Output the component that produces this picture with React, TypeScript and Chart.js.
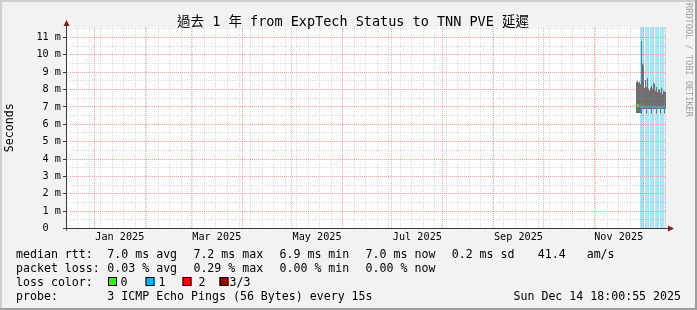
import React, { useEffect, useRef } from "react";
import { Chart, registerables } from "chart.js";

Chart.register(...registerables);

// ---------- text ----------
const TITLE = "過去 1 年 from ExpTech Status to TNN PVE 延遲";
const Y_TITLE = "Seconds";
const WATERMARK = "RRDTOOL / TOBI OETIKER";

// ---------- time axis ----------
const END_TIME = "2025-12-14T18:00:55Z";
const SPAN_DAYS = 365;
const LABEL_MONTHS_2025 = [0, 2, 4, 6, 8, 10];
const MONTH_LABELS = ["Jan 2025", "Mar 2025", "May 2025", "Jul 2025", "Sep 2025", "Nov 2025"];

// ---------- value axis (ms) ----------
const Y_MAX_MS = 11.6;
const Y_MAJOR_TICKS = [0, 1, 2, 3, 4, 5, 6, 7, 8, 9, 10, 11];
const Y_MINOR_TICKS = [0.5, 1.5, 2.5, 3.5, 4.5, 5.5, 6.5, 7.5, 8.5, 9.5, 10.5, 11.5];
const Y_TICK_LABELS = ["0  ", "1 m", "2 m", "3 m", "4 m", "5 m", "6 m", "7 m", "8 m", "9 m", "10 m", "11 m"];

// ---------- samples (one RRD step each) ----------
const FIRST_SAMPLE = "2025-11-26T19:18:41Z";
const STEP_SECONDS = 52560;
const SMOKE_HIGH = [8.45, 8.5, 8.4, 8.45, 8.3, 10.8, 9.5, 9.4, 8.1, 8.55, 8.15, 8.65, 8.05, 7.95, 8.1, 8.2, 8.05, 8.4, 8.35, 7.95, 8.15, 7.85, 8.0, 8.0, 7.85, 8.1, 7.75, 7.95, 7.9, 7.85];
const SMOKE_LOW = [6.65, 6.65, 6.65, 6.65, 6.65, 6.62, 6.88, 6.88, 6.88, 6.88, 6.62, 6.88, 6.88, 6.88, 6.88, 6.62, 6.88, 6.88, 6.88, 6.88, 6.62, 6.88, 6.88, 6.88, 6.62, 6.88, 6.88, 6.88, 6.62, 6.88];
const MEDIAN = [7.05, 7.1, 7.05, 7.1, 7.0, 6.95, 7.0, 7.05, 7.0, 7.0, 6.95, 7.0, 7.0, 7.05, 7.0, 7.0, 7.0, 7.0, 7.05, 7.0, 7.0, 6.95, 7.0, 7.0, 6.95, 7.0, 7.0, 7.0, 7.05, 7.0];
const LOST_PINGS = [0, 0, 0, 0, 1, 1, 1, 1, 0, 1, 1, 1, 1, 0, 1, 1, 1, 1, 0, 1, 1, 1, 1, 0, 1, 1, 1, 1, 0, 1];

// ---------- legend ----------
const RTT_HEAD = "median rtt:";
const RTT_ITEMS = ["7.0 ms avg", "7.2 ms max", "6.9 ms min", "7.0 ms now", "0.2 ms sd", "41.4   am/s"];
const LOSS_HEAD = "packet loss:";
const LOSS_ITEMS = ["0.03 % avg", "0.29 % max", "0.00 % min", "0.00 % now"];
const LOSS_COLOR_HEAD = "loss color:";
const LOSS_COLOR_LABELS = ["0", "1", "2", "3/3"];
const LOSS_COLORS = ["#26ff00", "#00b8ff", "#ff0000", "#a00000"];
const PROBE_HEAD = "probe:";
const PROBE_TEXT = "3 ICMP Echo Pings (56 Bytes) every 15s";
const TIMESTAMP = "Sun Dec 14 18:00:55 2025";

// ---------- styles ----------
const MONO = "'DejaVu Sans Mono', 'Noto Sans CJK TC', monospace";
const BG = "#f2f2f2";
const MINOR_GRID = "rgba(150,150,150,0.3)";
const MAJOR_GRID = "rgba(225,80,80,0.45)";
const SMOKE_COLOR = "#707070";
const LOSS_BAR_COLOR = "#a8e6fb";
const AXIS_COLOR = "#3a3a3a";
const ARROW_COLOR = "#801f1f";

const DAY = 86400000;
const END = new Date(END_TIME).getTime();
const START = END - SPAN_DAYS * DAY;
const T0 = new Date(FIRST_SAMPLE).getTime();
const SAMPLE_TIMES = SMOKE_HIGH.map((_, i) => T0 + i * STEP_SECONDS * 1000);

function monthStarts(): number[] {
  const d = new Date(START);
  const out: number[] = [];
  let y = d.getUTCFullYear();
  let m = d.getUTCMonth() + 1;
  for (;;) {
    const t = Date.UTC(y, m, 1);
    if (t > END) break;
    out.push(t);
    m++;
  }
  return out;
}
function sundays(): number[] {
  const d = new Date(START);
  let t = Date.UTC(d.getUTCFullYear(), d.getUTCMonth(), d.getUTCDate());
  const out: number[] = [];
  while (t <= END) {
    if (t >= START && new Date(t).getUTCDay() === 0) out.push(t);
    t += DAY;
  }
  return out;
}
const MONTH_STARTS = monthStarts();
const GRID_TICKS = Array.from(new Set([...MONTH_STARTS, ...sundays()])).sort((a, b) => a - b);
const LABEL_TICKS = LABEL_MONTHS_2025.map((m) => (Date.UTC(2025, m, 1) + Date.UTC(2025, m + 1, 1)) / 2);

const rrdPlugin = {
  id: "rrdDecor",
  beforeDraw(chart: any) {
    const { ctx, chartArea: a } = chart;
    ctx.save();
    ctx.fillStyle = BG;
    ctx.fillRect(0, 0, chart.width, chart.height);
    ctx.fillStyle = "#ffffff";
    ctx.fillRect(a.left, a.top, a.right - a.left, a.bottom - a.top);
    ctx.restore();
  },
  afterDraw(chart: any) {
    const { ctx, chartArea: a } = chart;
    const W = chart.width;
    const H = chart.height;
    ctx.save();
    // axes
    ctx.strokeStyle = AXIS_COLOR;
    ctx.lineWidth = 1;
    ctx.beginPath();
    ctx.moveTo(a.left + 0.5, a.bottom + 2);
    ctx.lineTo(a.left + 0.5, a.top - 2);
    ctx.moveTo(a.left - 3, a.bottom);
    ctx.lineTo(a.right + 3, a.bottom);
    ctx.stroke();
    ctx.fillStyle = ARROW_COLOR;
    ctx.beginPath();
    ctx.moveTo(a.left + 0.5, a.top - 7);
    ctx.lineTo(a.left - 2.5, a.top - 1);
    ctx.lineTo(a.left + 3.5, a.top - 1);
    ctx.closePath();
    ctx.fill();
    ctx.beginPath();
    ctx.moveTo(a.right + 8, a.bottom);
    ctx.lineTo(a.right + 2, a.bottom - 3);
    ctx.lineTo(a.right + 2, a.bottom + 3);
    ctx.closePath();
    ctx.fill();

    // title
    ctx.fillStyle = "#000";
    ctx.font = `13.5px ${MONO}`;
    ctx.textBaseline = "alphabetic";
    ctx.textAlign = "left";
    ctx.fillText(TITLE, 177, 26);

    // y title
    ctx.save();
    ctx.translate(10, (a.top + a.bottom) / 2);
    ctx.rotate(-Math.PI / 2);
    ctx.textAlign = "center";
    ctx.textBaseline = "middle";
    ctx.font = `11.6px ${MONO}`;
    ctx.fillText(Y_TITLE, 0, 0);
    ctx.restore();

    // watermark
    ctx.save();
    ctx.translate(688, 60);
    ctx.rotate(Math.PI / 2);
    ctx.textAlign = "center";
    ctx.textBaseline = "middle";
    ctx.font = `8.6px ${MONO}`;
    ctx.fillStyle = "#a2a2a2";
    ctx.fillText(WATERMARK, 0, 0);
    ctx.restore();

    // legend
    ctx.font = `11.6px ${MONO}`;
    ctx.fillStyle = "#000";
    ctx.textAlign = "left";
    ctx.textBaseline = "alphabetic";
    const x0 = 107.3;
    const dx = 86.1;
    const rows = [257.5, 271.8, 286.1, 300.4];
    ctx.fillText(RTT_HEAD, 16, rows[0]);
    RTT_ITEMS.forEach((s, i) => ctx.fillText(s, x0 + i * dx, rows[0]));
    ctx.fillText(LOSS_HEAD, 16, rows[1]);
    LOSS_ITEMS.forEach((s, i) => ctx.fillText(s, x0 + i * dx, rows[1]));
    ctx.fillText(LOSS_COLOR_HEAD, 16, rows[2]);
    const swX = [108, 145.5, 182.5, 219.5];
    const lbX = [120.5, 158.5, 198.5, 229.5];
    LOSS_COLOR_LABELS.forEach((s, i) => {
      ctx.fillStyle = LOSS_COLORS[i];
      ctx.fillRect(swX[i], 277, 9, 9);
      ctx.strokeStyle = "#000";
      ctx.strokeRect(swX[i] + 0.5, 277.5, 8, 8);
      ctx.fillStyle = "#000";
      ctx.fillText(s, lbX[i], rows[2]);
    });
    ctx.fillText(PROBE_HEAD, 16, rows[3]);
    ctx.fillText(PROBE_TEXT, x0, rows[3]);
    ctx.textAlign = "right";
    ctx.fillText(TIMESTAMP, 681, rows[3]);

    // frame
    ctx.fillStyle = "#cfcfcf";
    ctx.fillRect(0, 0, W, 2);
    ctx.fillRect(0, 0, 2, H);
    ctx.fillStyle = "#9e9e9e";
    ctx.fillRect(0, H - 2, W, 2);
    ctx.fillRect(W - 2, 0, 2, H);
    ctx.restore();
  },
};

export default function App() {
  const ref = useRef<HTMLCanvasElement | null>(null);
  useEffect(() => {
    if (!ref.current) return;
    const lossData = SAMPLE_TIMES.map((t, i) => ({ x: t, y: [0, Y_MAX_MS], lost: LOST_PINGS[i] })).filter((p) => p.lost > 0);
    const chart = new Chart(ref.current, {
      type: "bar",
      data: {
        datasets: [
          {
            type: "line",
            data: SAMPLE_TIMES.map((t, i) => ({ x: t, y: MEDIAN[i] })),
            borderColor: LOSS_COLORS[1],
            borderWidth: 2,
            pointRadius: 0,
            tension: 0,
            order: 0,
            segment: {
              borderColor: (c: any) => LOSS_COLORS[Math.min(LOST_PINGS[c.p1DataIndex], 3)],
            },
          } as any,
          {
            type: "bar",
            data: SAMPLE_TIMES.map((t, i) => ({ x: t, y: [SMOKE_LOW[i], SMOKE_HIGH[i]] })),
            backgroundColor: SMOKE_COLOR,
            borderWidth: 0,
            grouped: false,
            barPercentage: 1,
            categoryPercentage: 1,
            inflateAmount: 0,
            order: 1,
          } as any,
          {
            type: "bar",
            data: lossData,
            backgroundColor: LOSS_BAR_COLOR,
            borderWidth: 0,
            grouped: false,
            barPercentage: 1,
            categoryPercentage: 1,
            inflateAmount: 0,
            order: 2,
          } as any,
        ],
      },
      options: {
        responsive: false,
        animation: false,
        devicePixelRatio: 1,
        events: [],
        layout: { padding: { top: 27, right: 31, bottom: 0, left: 0 } },
        plugins: { legend: { display: false }, tooltip: { enabled: false }, title: { display: false } },
        scales: {
          x: {
            type: "linear",
            position: "bottom",
            offset: false,
            min: START,
            max: END,
            afterBuildTicks: (s: any) => {
              s.ticks = GRID_TICKS.map((v) => ({ value: v }));
            },
            afterFit: (s: any) => {
              s.height = 0;
            },
            ticks: { display: false, autoSkip: false },
            border: { display: false, dash: [1, 1] },
            grid: {
              z: 1,
              offset: false,
              drawTicks: false,
              lineWidth: 1,
              color: (c: any) => (c.tick && MONTH_STARTS.includes(c.tick.value) ? MAJOR_GRID : MINOR_GRID),
            },
          } as any,
          xl: {
            type: "linear",
            position: "bottom",
            offset: false,
            min: START,
            max: END,
            afterBuildTicks: (s: any) => {
              s.ticks = LABEL_TICKS.map((v) => ({ value: v }));
            },
            afterFit: (s: any) => {
              s.height = 81.5;
            },
            ticks: {
              autoSkip: false,
              maxRotation: 0,
              padding: 3,
              color: "#000",
              font: { family: MONO, size: 10.2 },
              callback: (v: any) => {
                const i = LABEL_TICKS.indexOf(v);
                return i >= 0 ? MONTH_LABELS[i] : "";
              },
            },
            border: { display: false },
            grid: { display: false, drawTicks: false, offset: false },
          } as any,
          y: {
            type: "linear",
            min: 0,
            max: Y_MAX_MS,
            afterBuildTicks: (s: any) => {
              s.ticks = [...Y_MAJOR_TICKS, ...Y_MINOR_TICKS].sort((a, b) => a - b).map((v) => ({ value: v }));
            },
            afterFit: (s: any) => {
              s.width = 66;
            },
            ticks: {
              autoSkip: false,
              padding: 2,
              color: "#000",
              font: { family: MONO, size: 10.2 },
              callback: (v: any) => {
                const i = Y_MAJOR_TICKS.indexOf(v);
                return i >= 0 ? Y_TICK_LABELS[i] : "";
              },
            },
            border: { display: false, dash: [1, 1] },
            grid: {
              z: 1,
              lineWidth: 1,
              tickLength: 3,
              tickColor: (c: any) => (c.tick && Y_MAJOR_TICKS.includes(c.tick.value) ? AXIS_COLOR : "rgba(0,0,0,0)"),
              color: (c: any) => (c.tick && Y_MAJOR_TICKS.includes(c.tick.value) ? MAJOR_GRID : MINOR_GRID),
            },
          } as any,
        },
      },
      plugins: [rrdPlugin],
    } as any);
    return () => chart.destroy();
  }, []);
  return (
    <div style={{ position: "fixed", left: 0, top: 0, width: 697, height: 310 }}>
      <canvas ref={ref} width={697} height={310} style={{ display: "block", width: 697, height: 310 }} />
    </div>
  );
}
